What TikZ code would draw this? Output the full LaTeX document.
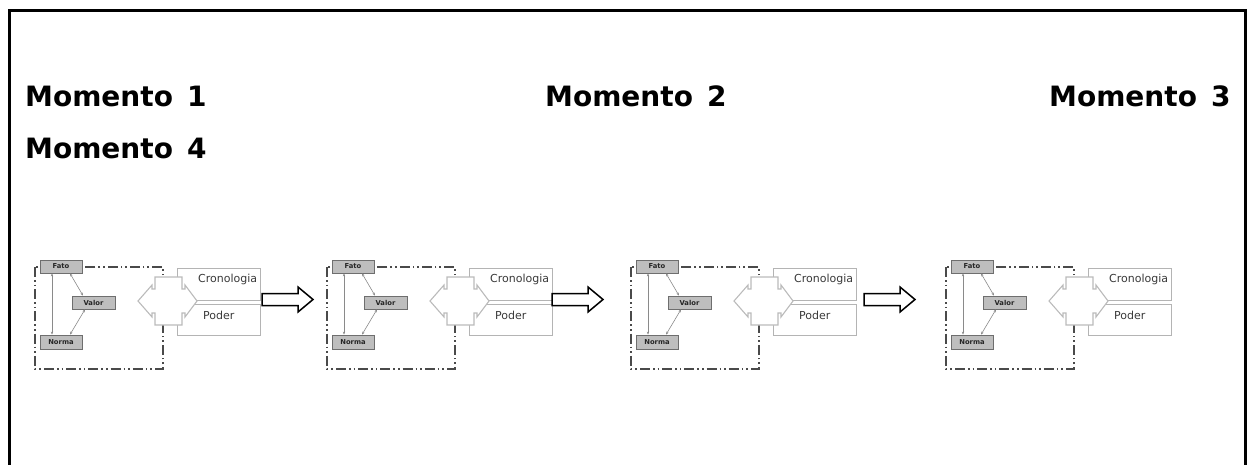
\documentclass[tikz,border=0pt]{standalone}
\usepackage{fontspec}
\setmainfont{DejaVu Sans}
\usetikzlibrary{arrows.meta}
\definecolor{tagfill}{HTML}{BEBEBE}
\definecolor{tagedge}{HTML}{6E6E6E}
\definecolor{framegray}{HTML}{4A4A4A}
\definecolor{softgray}{HTML}{B4B4B4}
\definecolor{linkgray}{HTML}{8A8A8A}
\definecolor{labelgray}{HTML}{3A3A3A}
\tikzset{
  heading/.style={anchor=base west, inner sep=0pt, font=\fontsize{28}{30}\selectfont\bfseries},
  tag/.style={draw=tagedge, fill=tagfill, line width=0.8pt, inner sep=0pt,
    minimum width=42pt, minimum height=13pt, font=\fontsize{6.8}{7}\selectfont\bfseries, text=black!85},
  link/.style={draw=linkgray, line width=0.6pt, {Stealth[length=3pt,width=2.4pt]}-{Stealth[length=3pt,width=2.4pt]}},
  group/.style={draw=framegray, line width=2pt,
    dash pattern=on 10pt off 3pt on 1.6pt off 3pt on 1.6pt off 3pt},
  panel/.style={draw=softgray, fill=white, line width=0.9pt, inner sep=0pt},
  paneltext/.style={inner sep=0pt, text=labelgray, font=\fontsize{11}{12}\selectfont},
  callout/.style={draw=softgray!90, fill=white, line width=1.1pt, line join=miter},
  blockarrow/.style={draw=black, fill=white, line width=1.5pt, line join=miter}
}
\begin{document}
\begin{tikzpicture}[x=1pt, y=-1pt]
\useasboundingbox (0,0) rectangle (1249,465);

% outer frame, open at the bottom
\draw[line width=3pt] (9,465) -- (9,11) -- (1245,11) -- (1245,465);

% headings
\node[heading] (m1) at (25,107) {{\spaceskip=14pt Momento 1}};
\node[heading] (m2) at (545,107) {{\spaceskip=14pt Momento 2}};
\node[heading] (m3) at (1049,107) {{\spaceskip=14pt Momento 3}};
\node[heading] (m4) at (25,159) {{\spaceskip=14pt Momento 4}};

% the four stages
\foreach \d [count=\k] in {0,292,596,911} {
  \begin{scope}[xshift=\d pt]
    % dash-dot-dot grouping frame
    \draw[group] (35,267) rectangle (163,369);
    % right-hand panels
    \node[panel, minimum width=83pt, minimum height=32pt] (cron\k) at (218.5,284) {};
    \node[panel, minimum width=83pt, minimum height=31pt] (pod\k) at (218.5,319.5) {};
    \node[paneltext, anchor=base west] (crontxt\k) at (198,282) {Cronologia};
    \node[paneltext, anchor=base west] (podtxt\k) at (203,319) {Poder};
    % two-way callout between the group and the panels
    \draw[callout] (155,277) -- (182,277) -- (182,289) -- (185,289) -- (185,285)
      -- (197,301) -- (185,317) -- (185,313) -- (182,313) -- (182,325)
      -- (155,325) -- (155,313) -- (152,313) -- (152,317) -- (138,301)
      -- (152,285) -- (152,289) -- (155,289) -- cycle;
    % the three elements
    \node[tag] (fato\k) at (61,266.5) {Fato};
    \node[tag, minimum width=43pt] (valor\k) at (93.5,302.5) {Valor};
    \node[tag, minimum height=14pt] (norma\k) at (61,342) {Norma};
    \draw[link] ([xshift=-9pt]fato\k.south) -- ([xshift=-9pt]norma\k.north);
    \draw[link] ([xshift=9pt]fato\k.south) -- ([xshift=-10.5pt]valor\k.north);
    \draw[link] ([xshift=-8.5pt]valor\k.south) -- ([xshift=9pt]norma\k.north);
  \end{scope}
}

% block arrows leading from one stage to the next
\foreach \a/\n in {262/1,552/2,864/3} {
  \coordinate (arr\n) at (\a,299.5);
  \draw[blockarrow] (arr\n) ++(0,-6) -- ++(36,0) -- ++(0,-6.5) -- ++(15,12.5)
    -- ++(-15,12.5) -- ++(0,-6.5) -- ++(-36,0) -- cycle;
}
\end{tikzpicture}
\end{document}
